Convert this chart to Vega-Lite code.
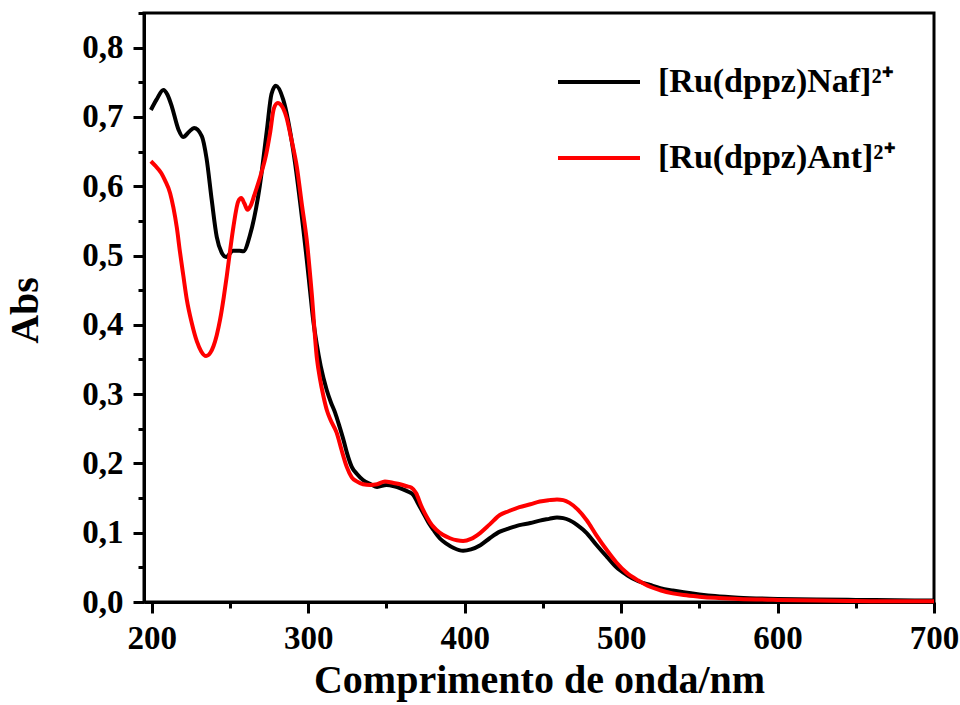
{
  "$schema": "https://vega.github.io/schema/vega-lite/v6.json",
  "autosize": {"type": "none"},
  "padding": {"left": 144, "top": 13, "right": 26, "bottom": 103},
  "width": 790,
  "height": 589,
  "background": "white",
  "config": {
    "view": {"stroke": "black", "strokeWidth": 3},
    "font": "Liberation Serif"
  },
  "datasets": {
    "spectra": [
      {"nm": 199.4, "abs": 0.710, "s": "[Ru(dppz)Naf]"},
      {"nm": 203, "abs": 0.725, "s": "[Ru(dppz)Naf]"},
      {"nm": 207.4, "abs": 0.739, "s": "[Ru(dppz)Naf]"},
      {"nm": 210, "abs": 0.732, "s": "[Ru(dppz)Naf]"},
      {"nm": 212.8, "abs": 0.715, "s": "[Ru(dppz)Naf]"},
      {"nm": 217, "abs": 0.682, "s": "[Ru(dppz)Naf]"},
      {"nm": 220, "abs": 0.671, "s": "[Ru(dppz)Naf]"},
      {"nm": 224, "abs": 0.679, "s": "[Ru(dppz)Naf]"},
      {"nm": 227, "abs": 0.684, "s": "[Ru(dppz)Naf]"},
      {"nm": 232, "abs": 0.672, "s": "[Ru(dppz)Naf]"},
      {"nm": 235, "abs": 0.640, "s": "[Ru(dppz)Naf]"},
      {"nm": 238.3, "abs": 0.580, "s": "[Ru(dppz)Naf]"},
      {"nm": 241.5, "abs": 0.527, "s": "[Ru(dppz)Naf]"},
      {"nm": 244.5, "abs": 0.505, "s": "[Ru(dppz)Naf]"},
      {"nm": 247.5, "abs": 0.498, "s": "[Ru(dppz)Naf]"},
      {"nm": 252, "abs": 0.507, "s": "[Ru(dppz)Naf]"},
      {"nm": 256, "abs": 0.507, "s": "[Ru(dppz)Naf]"},
      {"nm": 258.5, "abs": 0.506, "s": "[Ru(dppz)Naf]"},
      {"nm": 262.8, "abs": 0.530, "s": "[Ru(dppz)Naf]"},
      {"nm": 269, "abs": 0.600, "s": "[Ru(dppz)Naf]"},
      {"nm": 273.5, "abs": 0.680, "s": "[Ru(dppz)Naf]"},
      {"nm": 276.5, "abs": 0.733, "s": "[Ru(dppz)Naf]"},
      {"nm": 279.3, "abs": 0.745, "s": "[Ru(dppz)Naf]"},
      {"nm": 284, "abs": 0.725, "s": "[Ru(dppz)Naf]"},
      {"nm": 290.5, "abs": 0.650, "s": "[Ru(dppz)Naf]"},
      {"nm": 297, "abs": 0.535, "s": "[Ru(dppz)Naf]"},
      {"nm": 299, "abs": 0.495, "s": "[Ru(dppz)Naf]"},
      {"nm": 301.2, "abs": 0.448, "s": "[Ru(dppz)Naf]"},
      {"nm": 303, "abs": 0.410, "s": "[Ru(dppz)Naf]"},
      {"nm": 305.5, "abs": 0.371, "s": "[Ru(dppz)Naf]"},
      {"nm": 308, "abs": 0.340, "s": "[Ru(dppz)Naf]"},
      {"nm": 311.8, "abs": 0.306, "s": "[Ru(dppz)Naf]"},
      {"nm": 314.5, "abs": 0.288, "s": "[Ru(dppz)Naf]"},
      {"nm": 317.2, "abs": 0.273, "s": "[Ru(dppz)Naf]"},
      {"nm": 320, "abs": 0.253, "s": "[Ru(dppz)Naf]"},
      {"nm": 322.5, "abs": 0.234, "s": "[Ru(dppz)Naf]"},
      {"nm": 325, "abs": 0.213, "s": "[Ru(dppz)Naf]"},
      {"nm": 327.8, "abs": 0.195, "s": "[Ru(dppz)Naf]"},
      {"nm": 331, "abs": 0.185, "s": "[Ru(dppz)Naf]"},
      {"nm": 335, "abs": 0.176, "s": "[Ru(dppz)Naf]"},
      {"nm": 340, "abs": 0.170, "s": "[Ru(dppz)Naf]"},
      {"nm": 344, "abs": 0.166, "s": "[Ru(dppz)Naf]"},
      {"nm": 350, "abs": 0.169, "s": "[Ru(dppz)Naf]"},
      {"nm": 355, "abs": 0.167, "s": "[Ru(dppz)Naf]"},
      {"nm": 359, "abs": 0.164, "s": "[Ru(dppz)Naf]"},
      {"nm": 364, "abs": 0.159, "s": "[Ru(dppz)Naf]"},
      {"nm": 367, "abs": 0.155, "s": "[Ru(dppz)Naf]"},
      {"nm": 370, "abs": 0.143, "s": "[Ru(dppz)Naf]"},
      {"nm": 373.6, "abs": 0.128, "s": "[Ru(dppz)Naf]"},
      {"nm": 377, "abs": 0.114, "s": "[Ru(dppz)Naf]"},
      {"nm": 380, "abs": 0.104, "s": "[Ru(dppz)Naf]"},
      {"nm": 384, "abs": 0.092, "s": "[Ru(dppz)Naf]"},
      {"nm": 388.5, "abs": 0.084, "s": "[Ru(dppz)Naf]"},
      {"nm": 393, "abs": 0.078, "s": "[Ru(dppz)Naf]"},
      {"nm": 399, "abs": 0.074, "s": "[Ru(dppz)Naf]"},
      {"nm": 404, "abs": 0.076, "s": "[Ru(dppz)Naf]"},
      {"nm": 410, "abs": 0.082, "s": "[Ru(dppz)Naf]"},
      {"nm": 416, "abs": 0.092, "s": "[Ru(dppz)Naf]"},
      {"nm": 422.5, "abs": 0.1015, "s": "[Ru(dppz)Naf]"},
      {"nm": 428, "abs": 0.106, "s": "[Ru(dppz)Naf]"},
      {"nm": 435, "abs": 0.111, "s": "[Ru(dppz)Naf]"},
      {"nm": 442, "abs": 0.114, "s": "[Ru(dppz)Naf]"},
      {"nm": 448, "abs": 0.1175, "s": "[Ru(dppz)Naf]"},
      {"nm": 454, "abs": 0.120, "s": "[Ru(dppz)Naf]"},
      {"nm": 459, "abs": 0.122, "s": "[Ru(dppz)Naf]"},
      {"nm": 463, "abs": 0.121, "s": "[Ru(dppz)Naf]"},
      {"nm": 467, "abs": 0.118, "s": "[Ru(dppz)Naf]"},
      {"nm": 472, "abs": 0.111, "s": "[Ru(dppz)Naf]"},
      {"nm": 478, "abs": 0.0995, "s": "[Ru(dppz)Naf]"},
      {"nm": 484, "abs": 0.083, "s": "[Ru(dppz)Naf]"},
      {"nm": 490.8, "abs": 0.0655, "s": "[Ru(dppz)Naf]"},
      {"nm": 497, "abs": 0.050, "s": "[Ru(dppz)Naf]"},
      {"nm": 503.6, "abs": 0.039, "s": "[Ru(dppz)Naf]"},
      {"nm": 511, "abs": 0.030, "s": "[Ru(dppz)Naf]"},
      {"nm": 518.5, "abs": 0.0245, "s": "[Ru(dppz)Naf]"},
      {"nm": 525, "abs": 0.020, "s": "[Ru(dppz)Naf]"},
      {"nm": 533, "abs": 0.0165, "s": "[Ru(dppz)Naf]"},
      {"nm": 540, "abs": 0.014, "s": "[Ru(dppz)Naf]"},
      {"nm": 550, "abs": 0.011, "s": "[Ru(dppz)Naf]"},
      {"nm": 560, "abs": 0.0085, "s": "[Ru(dppz)Naf]"},
      {"nm": 575, "abs": 0.0062, "s": "[Ru(dppz)Naf]"},
      {"nm": 600, "abs": 0.0045, "s": "[Ru(dppz)Naf]"},
      {"nm": 625, "abs": 0.0035, "s": "[Ru(dppz)Naf]"},
      {"nm": 650, "abs": 0.003, "s": "[Ru(dppz)Naf]"},
      {"nm": 675, "abs": 0.0025, "s": "[Ru(dppz)Naf]"},
      {"nm": 700, "abs": 0.002, "s": "[Ru(dppz)Naf]"},

      {"nm": 199.4, "abs": 0.636, "s": "[Ru(dppz)Ant]"},
      {"nm": 202, "abs": 0.630, "s": "[Ru(dppz)Ant]"},
      {"nm": 206, "abs": 0.619, "s": "[Ru(dppz)Ant]"},
      {"nm": 208.5, "abs": 0.608, "s": "[Ru(dppz)Ant]"},
      {"nm": 211.7, "abs": 0.590, "s": "[Ru(dppz)Ant]"},
      {"nm": 213.8, "abs": 0.569, "s": "[Ru(dppz)Ant]"},
      {"nm": 216, "abs": 0.540, "s": "[Ru(dppz)Ant]"},
      {"nm": 218, "abs": 0.505, "s": "[Ru(dppz)Ant]"},
      {"nm": 220.2, "abs": 0.470, "s": "[Ru(dppz)Ant]"},
      {"nm": 222.4, "abs": 0.436, "s": "[Ru(dppz)Ant]"},
      {"nm": 225.5, "abs": 0.403, "s": "[Ru(dppz)Ant]"},
      {"nm": 228.8, "abs": 0.376, "s": "[Ru(dppz)Ant]"},
      {"nm": 231.5, "abs": 0.362, "s": "[Ru(dppz)Ant]"},
      {"nm": 234.7, "abs": 0.355, "s": "[Ru(dppz)Ant]"},
      {"nm": 237.5, "abs": 0.360, "s": "[Ru(dppz)Ant]"},
      {"nm": 239.4, "abs": 0.369, "s": "[Ru(dppz)Ant]"},
      {"nm": 241.5, "abs": 0.385, "s": "[Ru(dppz)Ant]"},
      {"nm": 243.6, "abs": 0.407, "s": "[Ru(dppz)Ant]"},
      {"nm": 246, "abs": 0.440, "s": "[Ru(dppz)Ant]"},
      {"nm": 247.9, "abs": 0.470, "s": "[Ru(dppz)Ant]"},
      {"nm": 250.2, "abs": 0.510, "s": "[Ru(dppz)Ant]"},
      {"nm": 252.2, "abs": 0.542, "s": "[Ru(dppz)Ant]"},
      {"nm": 255.2, "abs": 0.578, "s": "[Ru(dppz)Ant]"},
      {"nm": 257.2, "abs": 0.583, "s": "[Ru(dppz)Ant]"},
      {"nm": 259.2, "abs": 0.575, "s": "[Ru(dppz)Ant]"},
      {"nm": 261.2, "abs": 0.566, "s": "[Ru(dppz)Ant]"},
      {"nm": 263.2, "abs": 0.572, "s": "[Ru(dppz)Ant]"},
      {"nm": 265.5, "abs": 0.587, "s": "[Ru(dppz)Ant]"},
      {"nm": 270, "abs": 0.619, "s": "[Ru(dppz)Ant]"},
      {"nm": 273, "abs": 0.645, "s": "[Ru(dppz)Ant]"},
      {"nm": 275.6, "abs": 0.677, "s": "[Ru(dppz)Ant]"},
      {"nm": 278, "abs": 0.712, "s": "[Ru(dppz)Ant]"},
      {"nm": 280.5, "abs": 0.720, "s": "[Ru(dppz)Ant]"},
      {"nm": 283, "abs": 0.716, "s": "[Ru(dppz)Ant]"},
      {"nm": 286, "abs": 0.700, "s": "[Ru(dppz)Ant]"},
      {"nm": 289, "abs": 0.670, "s": "[Ru(dppz)Ant]"},
      {"nm": 292.7, "abs": 0.628, "s": "[Ru(dppz)Ant]"},
      {"nm": 296, "abs": 0.572, "s": "[Ru(dppz)Ant]"},
      {"nm": 299, "abs": 0.523, "s": "[Ru(dppz)Ant]"},
      {"nm": 302.2, "abs": 0.446, "s": "[Ru(dppz)Ant]"},
      {"nm": 305.5, "abs": 0.352, "s": "[Ru(dppz)Ant]"},
      {"nm": 307.5, "abs": 0.322, "s": "[Ru(dppz)Ant]"},
      {"nm": 309.7, "abs": 0.297, "s": "[Ru(dppz)Ant]"},
      {"nm": 312, "abs": 0.276, "s": "[Ru(dppz)Ant]"},
      {"nm": 314.2, "abs": 0.263, "s": "[Ru(dppz)Ant]"},
      {"nm": 318.2, "abs": 0.244, "s": "[Ru(dppz)Ant]"},
      {"nm": 321.2, "abs": 0.220, "s": "[Ru(dppz)Ant]"},
      {"nm": 324.6, "abs": 0.195, "s": "[Ru(dppz)Ant]"},
      {"nm": 327.8, "abs": 0.180, "s": "[Ru(dppz)Ant]"},
      {"nm": 331, "abs": 0.174, "s": "[Ru(dppz)Ant]"},
      {"nm": 335, "abs": 0.170, "s": "[Ru(dppz)Ant]"},
      {"nm": 339.5, "abs": 0.169, "s": "[Ru(dppz)Ant]"},
      {"nm": 344, "abs": 0.170, "s": "[Ru(dppz)Ant]"},
      {"nm": 349, "abs": 0.174, "s": "[Ru(dppz)Ant]"},
      {"nm": 354, "abs": 0.172, "s": "[Ru(dppz)Ant]"},
      {"nm": 358.7, "abs": 0.170, "s": "[Ru(dppz)Ant]"},
      {"nm": 363, "abs": 0.167, "s": "[Ru(dppz)Ant]"},
      {"nm": 366, "abs": 0.165, "s": "[Ru(dppz)Ant]"},
      {"nm": 369, "abs": 0.157, "s": "[Ru(dppz)Ant]"},
      {"nm": 372, "abs": 0.140, "s": "[Ru(dppz)Ant]"},
      {"nm": 375.7, "abs": 0.123, "s": "[Ru(dppz)Ant]"},
      {"nm": 379, "abs": 0.111, "s": "[Ru(dppz)Ant]"},
      {"nm": 382, "abs": 0.104, "s": "[Ru(dppz)Ant]"},
      {"nm": 386, "abs": 0.097, "s": "[Ru(dppz)Ant]"},
      {"nm": 390.6, "abs": 0.092, "s": "[Ru(dppz)Ant]"},
      {"nm": 395, "abs": 0.089, "s": "[Ru(dppz)Ant]"},
      {"nm": 399, "abs": 0.088, "s": "[Ru(dppz)Ant]"},
      {"nm": 404, "abs": 0.091, "s": "[Ru(dppz)Ant]"},
      {"nm": 409.8, "abs": 0.0995, "s": "[Ru(dppz)Ant]"},
      {"nm": 416, "abs": 0.112, "s": "[Ru(dppz)Ant]"},
      {"nm": 422.5, "abs": 0.1255, "s": "[Ru(dppz)Ant]"},
      {"nm": 428, "abs": 0.131, "s": "[Ru(dppz)Ant]"},
      {"nm": 435, "abs": 0.137, "s": "[Ru(dppz)Ant]"},
      {"nm": 442, "abs": 0.141, "s": "[Ru(dppz)Ant]"},
      {"nm": 448, "abs": 0.145, "s": "[Ru(dppz)Ant]"},
      {"nm": 454, "abs": 0.147, "s": "[Ru(dppz)Ant]"},
      {"nm": 459, "abs": 0.148, "s": "[Ru(dppz)Ant]"},
      {"nm": 463, "abs": 0.147, "s": "[Ru(dppz)Ant]"},
      {"nm": 467, "abs": 0.143, "s": "[Ru(dppz)Ant]"},
      {"nm": 472, "abs": 0.134, "s": "[Ru(dppz)Ant]"},
      {"nm": 478, "abs": 0.118, "s": "[Ru(dppz)Ant]"},
      {"nm": 484, "abs": 0.097, "s": "[Ru(dppz)Ant]"},
      {"nm": 490.8, "abs": 0.075, "s": "[Ru(dppz)Ant]"},
      {"nm": 497, "abs": 0.057, "s": "[Ru(dppz)Ant]"},
      {"nm": 503.6, "abs": 0.042, "s": "[Ru(dppz)Ant]"},
      {"nm": 511, "abs": 0.031, "s": "[Ru(dppz)Ant]"},
      {"nm": 518.5, "abs": 0.022, "s": "[Ru(dppz)Ant]"},
      {"nm": 525, "abs": 0.017, "s": "[Ru(dppz)Ant]"},
      {"nm": 533, "abs": 0.0125, "s": "[Ru(dppz)Ant]"},
      {"nm": 540, "abs": 0.010, "s": "[Ru(dppz)Ant]"},
      {"nm": 550, "abs": 0.0077, "s": "[Ru(dppz)Ant]"},
      {"nm": 560, "abs": 0.006, "s": "[Ru(dppz)Ant]"},
      {"nm": 575, "abs": 0.0045, "s": "[Ru(dppz)Ant]"},
      {"nm": 600, "abs": 0.003, "s": "[Ru(dppz)Ant]"},
      {"nm": 625, "abs": 0.002, "s": "[Ru(dppz)Ant]"},
      {"nm": 650, "abs": 0.0015, "s": "[Ru(dppz)Ant]"},
      {"nm": 675, "abs": 0.001, "s": "[Ru(dppz)Ant]"},
      {"nm": 700, "abs": 0.001, "s": "[Ru(dppz)Ant]"}
    ]
  },
  "data": {"name": "spectra"},
  "encoding": {
    "x": {
      "field": "nm", "type": "quantitative",
      "scale": {"domain": [195, 700], "nice": false, "zero": false},
      "axis": {
        "title": "Comprimento de onda/nm",
        "values": [200, 250, 300, 350, 400, 450, 500, 550, 600, 650, 700],
        "labelExpr": "datum.value % 100 === 0 ? datum.label : ''",
        "grid": false,
        "domainColor": "black", "domainWidth": 3,
        "tickColor": "black", "tickWidth": 3,
        "tickSize": {"condition": {"test": "datum.value % 100 === 0", "value": 11}, "value": 6},
        "labelFont": "Liberation Serif", "labelFontWeight": "bold", "labelFontSize": 33, "labelColor": "black",
        "labelBaseline": "alphabetic", "labelPadding": 35, "labelFlush": false, "labelOverlap": false,
        "titleFont": "Liberation Serif", "titleFontWeight": "bold", "titleFontSize": 40, "titleColor": "black",
        "titleBaseline": "alphabetic", "titleY": 90
      }
    },
    "y": {
      "field": "abs", "type": "quantitative",
      "scale": {"domain": [0, 0.85], "nice": false},
      "axis": {
        "title": "Abs",
        "values": [0, 0.05, 0.1, 0.15, 0.2, 0.25, 0.3, 0.35, 0.4, 0.45, 0.5, 0.55, 0.6, 0.65, 0.7, 0.75, 0.8, 0.85],
        "labelExpr": "round(datum.value * 20) % 2 === 0 ? replace(format(datum.value, '.1f'), '.', ',') : ''",
        "grid": false,
        "domainColor": "black", "domainWidth": 3,
        "tickColor": "black", "tickWidth": 3,
        "tickSize": {"condition": {"test": "round(datum.value * 20) % 2 === 0", "value": 11}, "value": 6},
        "labelFont": "Liberation Serif", "labelFontWeight": "bold", "labelFontSize": 33, "labelColor": "black",
        "labelBaseline": "middle", "labelPadding": 10, "labelFlush": false, "labelOverlap": false,
        "titleFont": "Liberation Serif", "titleFontWeight": "bold", "titleFontSize": 40, "titleColor": "black",
        "titleAngle": -90, "titleBaseline": "alphabetic", "titleAlign": "center", "titleX": -107, "titleY": 297
      }
    },
    "color": {
      "field": "s", "type": "nominal",
      "scale": {"domain": ["[Ru(dppz)Naf]", "[Ru(dppz)Ant]"], "range": ["#000000", "#ff0000"]},
      "legend": {
        "title": null,
        "orient": "none", "legendX": 412, "legendY": 26,
        "symbolType": "stroke", "symbolSize": 6724, "symbolStrokeWidth": 4,
        "labelFont": "Liberation Serif", "labelFontWeight": "bold", "labelFontSize": 34, "labelColor": "black",
        "labelOffset": 16, "labelLimit": 400, "rowPadding": 16,
        "labelExpr": "datum.label + '²⁺'"
      }
    }
  },
  "layer": [
    {
      "transform": [{"filter": "datum.s === '[Ru(dppz)Naf]'"}],
      "mark": {"type": "line", "strokeWidth": 4, "interpolate": "monotone"}
    },
    {
      "transform": [{"filter": "datum.s === '[Ru(dppz)Ant]'"}],
      "mark": {"type": "line", "strokeWidth": 4, "interpolate": "monotone"}
    }
  ]
}
